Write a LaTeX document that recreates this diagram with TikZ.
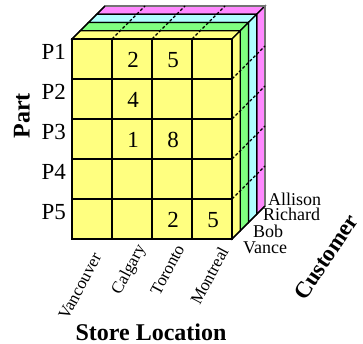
\documentclass[tikz,border=0pt]{standalone}
\usepackage{fontspec}
\setmainfont{Liberation Serif}
\definecolor{cubeyellow}{HTML}{FFFF80}
\definecolor{cubegreen}{HTML}{80FF80}
\definecolor{cubecyan}{HTML}{B0FFFF}
\definecolor{cubepink}{HTML}{FF88FF}
\begin{document}
\begin{tikzpicture}[
    x=1pt, y=-1pt,
    grid/.style={draw=black, line width=1.6pt, line join=miter},
    slab/.style={draw=black, line width=1.2pt, line join=miter},
    hidden/.style={draw=black, line width=1.2pt, dash pattern=on 3pt off 2pt},
    rowlab/.style={inner sep=0pt, anchor=east, font=\fontsize{23}{23}\selectfont},
    val/.style={inner sep=0pt, font=\fontsize{23}{23}\selectfont},
    collab/.style={inner sep=0pt, anchor=east, rotate=62, font=\fontsize{17}{17}\selectfont},
    custlab/.style={inner sep=0pt, anchor=base west, font=\fontsize{18}{18}\selectfont},
    axislab/.style={inner sep=0pt, font=\fontsize{24}{24}\selectfont\bfseries}
]
    \useasboundingbox (0,0) rectangle (363,344);

    %------------------------------------------------
    % 1. Customer slabs (top and right faces)
    %------------------------------------------------
    \filldraw[slab, fill=cubepink]   (96.75,14.25) -- (256.75,14.25) -- (265,6) -- (105,6) -- cycle;
    \filldraw[slab, fill=cubecyan]   (88.5,22.5) -- (248.5,22.5) -- (256.75,14.25) -- (96.75,14.25) -- cycle;
    \filldraw[slab, fill=cubegreen]  (80.25,30.75) -- (240.25,30.75) -- (248.5,22.5) -- (88.5,22.5) -- cycle;
    \filldraw[slab, fill=cubeyellow] (72,39) -- (232,39) -- (240.25,30.75) -- (80.25,30.75) -- cycle;

    \filldraw[slab, fill=cubepink]   (256.75,14.25) -- (265,6) -- (265,206) -- (256.75,214.25) -- cycle;
    \filldraw[slab, fill=cubecyan]   (248.5,22.5) -- (256.75,14.25) -- (256.75,214.25) -- (248.5,222.5) -- cycle;
    \filldraw[slab, fill=cubegreen]  (240.25,30.75) -- (248.5,22.5) -- (248.5,222.5) -- (240.25,230.75) -- cycle;
    \filldraw[slab, fill=cubeyellow] (232,39) -- (240.25,30.75) -- (240.25,230.75) -- (232,239) -- cycle;

    % back edges
    \draw[line width=1.2pt, draw=black!55] (105,6) -- (265,6) -- (265,206);

    % cell borders running into depth
    \draw[hidden] (112,39) -- (145,6);
    \draw[hidden] (152,39) -- (185,6);
    \draw[hidden] (192,39) -- (225,6);
    \draw[hidden] (232,79) -- (265,46);
    \draw[hidden] (232,119) -- (265,86);
    \draw[hidden] (232,159) -- (265,126);
    \draw[hidden] (232,199) -- (265,166);
    \draw[slab] (72,39) -- (105,6);
    \draw[slab] (232,239) -- (265,206);

    %------------------------------------------------
    % 2. Front face: Part x Store Location
    %------------------------------------------------
    \filldraw[grid, fill=cubeyellow] (72,39) rectangle (232,239);
    \draw[grid] (112,39) -- (112,239);
    \draw[grid] (152,39) -- (152,239);
    \draw[grid] (192,39) -- (192,239);
    \draw[grid] (72,79) -- (232,79);
    \draw[grid] (72,119) -- (232,119);
    \draw[grid] (72,159) -- (232,159);
    \draw[grid] (72,199) -- (232,199);

    \node[val] (v12) at (133,60) {2};
    \node[val] (v13) at (173,60) {5};
    \node[val] (v22) at (133,100) {4};
    \node[val] (v32) at (133,140) {1};
    \node[val] (v33) at (173,140) {8};
    \node[val] (v53) at (173,220) {2};
    \node[val] (v54) at (213,220) {5};

    %------------------------------------------------
    % 3. Labels
    %------------------------------------------------
    \node[rowlab] (p1) at (66,52) {P1};
    \node[rowlab] (p2) at (66,92) {P2};
    \node[rowlab] (p3) at (66,132) {P3};
    \node[rowlab] (p4) at (66,172) {P4};
    \node[rowlab] (p5) at (66,212) {P5};
    \node[axislab, rotate=90] (part) at (22,116) {Part};

    \node[collab] (van) at (97,254) {Vancouver};
    \node[collab] (cal) at (142,246) {Calgary};
    \node[collab] (tor) at (180,246) {Toronto};
    \node[collab] (mon) at (224,248) {Montreal};
    \node[axislab] (store) at (151,332) {Store Location};

    \node[custlab] (allison) at (268,206) {Allison};
    \node[custlab] (richard) at (263,221) {Richard};
    \node[custlab] (bob)     at (253,237) {Bob};
    \node[custlab] (vance)   at (243,253) {Vance};
    \node[axislab, rotate=56, font=\fontsize{23}{23}\selectfont\bfseries] (cust) at (326,257) {Customer};

\end{tikzpicture}
\end{document}
